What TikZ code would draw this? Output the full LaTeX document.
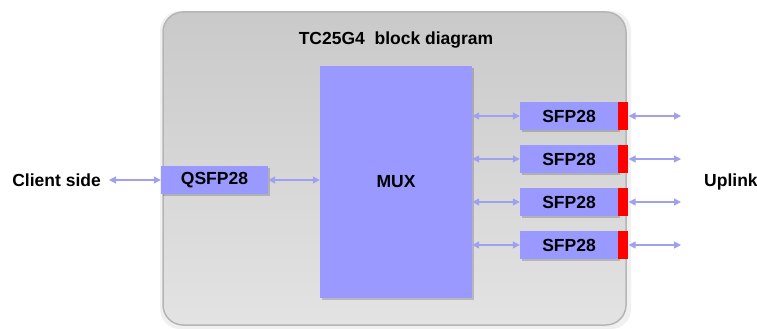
\documentclass[tikz,border=0pt]{standalone}
\usepackage{fontspec}
\setmainfont{Liberation Sans}
\usetikzlibrary{arrows.meta,shadows}
\definecolor{boxblue}{HTML}{9999FF}
\definecolor{arrowblue}{HTML}{A0A0F0}
\definecolor{frameline}{HTML}{B5B5B5}
\tikzset{
  lbl/.style={font=\fontsize{17.5}{20}\selectfont\bfseries, inner sep=0pt},
  blk/.style={fill=boxblue, draw=none, inner sep=0pt, font=\fontsize{17.5}{20}\selectfont\bfseries,
    drop shadow={shadow xshift=1.5pt, shadow yshift=-1.5pt, opacity=0.18, fill=black}},
  redbar/.style={fill=red, draw=none, inner sep=0pt, minimum width=10pt, minimum height=28pt},
  link/.style={draw=arrowblue, line width=1.2pt,
    {Triangle[length=7pt,width=7pt]}-{Triangle[length=7pt,width=7pt]}}
}
\begin{document}
\begin{tikzpicture}[x=1pt,y=-1pt]
\useasboundingbox (0,0) rectangle (757,329);
% outer frame
\fill[black,opacity=0.06,rounded corners=20pt] (160,11) rectangle (631,329);
\shade[top color=black!21, bottom color=black!11, rounded corners=20pt, draw=frameline, line width=1.5pt]
  (163,12) rectangle (626,325);
\node[lbl, anchor=base] (title) at (396,45) {TC25G4\ \ block diagram};
% blocks
\node[blk, minimum width=152pt, minimum height=232pt] (mux) at (396,182) {MUX};
\node[blk, minimum width=107pt, minimum height=28pt] (qsfp) at (214.5,180) {QSFP28};
\foreach \i/\y in {1/116,2/159,3/202,4/245}{
  \node[blk, minimum width=98pt, minimum height=28pt] (sfp\i) at (569,\y) {SFP28};
  \node[redbar, anchor=west] (red\i) at (sfp\i.east) {};
  \coordinate (out\i) at (681,\y);
  \draw[link] (mux.east |- sfp\i.west) -- (sfp\i.west);
  \draw[link] (red\i.east) -- (out\i);
}
\node[lbl, anchor=base east] (client) at (101,186) {Client side};
\node[lbl, anchor=base west] (uplink) at (704,186) {Uplink};
\coordinate (cl) at (109,180);
\draw[link] (cl) -- (qsfp.west);
\draw[link] (qsfp.east) -- (mux.west |- qsfp.east);
\end{tikzpicture}
\end{document}
